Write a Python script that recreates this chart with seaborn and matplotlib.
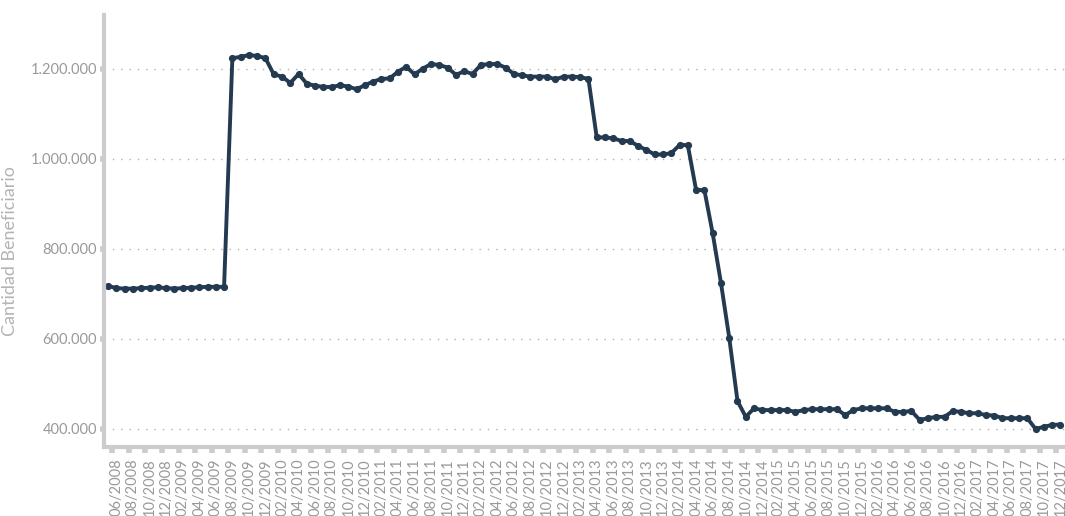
import pandas as pd
import matplotlib
matplotlib.use("Agg")
import matplotlib.pyplot as plt
from matplotlib.ticker import FuncFormatter
import seaborn as sns

# --- Datos: beneficiarios mensuales, 05/2008 a 12/2017 ---
meses = pd.date_range("2008-05-01", "2017-12-01", freq="MS").strftime("%m/%Y").tolist()

beneficiarios = [
    718000, 713000, 712000, 712000, 713000, 714000, 715000, 713000, 712000, 713000,
    714000, 715000, 716000, 716000, 716000,                                  # 05/2008-07/2009
    1224000, 1227000, 1231000, 1229000, 1224000, 1188000, 1183000, 1169000,
    1189000, 1167000, 1163000, 1160000, 1160000, 1164000, 1161000, 1155000,
    1164000, 1172000, 1178000, 1179000, 1194000, 1205000, 1188000, 1201000,
    1211000, 1209000, 1203000, 1187000, 1195000, 1189000, 1209000, 1211000,
    1211000, 1203000, 1189000, 1186000, 1183000, 1183000, 1183000, 1177000,
    1183000, 1183000, 1182000, 1178000,                                      # hasta 03/2013
    1048000, 1048000, 1046000, 1040000, 1040000, 1029000, 1020000, 1010000,
    1010000, 1013000, 1031000, 1031000, 931000, 931000,                      # hasta 05/2014
    835000, 725000, 603000, 462000, 427000, 446000,                          # caida 2014
    442000, 442000, 442000, 442000, 438000, 442000, 444000, 444000, 444000,
    444000, 431000, 442000, 446000, 446000, 446000, 446000, 438000, 438000,
    440000, 420000, 424000, 427000, 427000, 440000, 438000, 435000, 435000,
    431000, 430000, 424000, 424000, 424000, 424000, 400000, 405000, 409000,
    410000,
]

df = pd.DataFrame({"pos": range(len(meses)), "mes": meses, "valor": beneficiarios})

color_linea = "#243a50"
gris_eje = "#cccccc"
gris_texto = "#999999"

sns.set_theme(style="white")
plt.rcParams["font.family"] = ["Lato", "DejaVu Sans"]

fig = plt.figure(figsize=(10.65, 5.16), dpi=100)
ax = fig.add_axes([104 / 1065, 1 - 447 / 516, 960.6 / 1065, 432 / 516])

sns.lineplot(data=df, x="pos", y="valor", ax=ax, color=color_linea,
             linewidth=2.8, marker="o", markersize=5.2,
             markeredgecolor=color_linea, markeredgewidth=0)

ax.set_xlim(-0.5, len(meses) - 0.5)
ax.set_ylim(360000, 1320000)

# eje Y
ax.set_yticks([400000, 600000, 800000, 1000000, 1200000])
ax.yaxis.set_major_formatter(FuncFormatter(lambda v, _: f"{v:,.0f}".replace(",", ".")))
ax.tick_params(axis="y", length=3, width=4, color=gris_eje, pad=2,
               labelsize=10.5, labelcolor=gris_texto, left=True)
ax.set_ylabel("Cantidad Beneficiario", fontsize=13, color="#b3b3b3")
ax.yaxis.set_label_coords(-0.0895, 0.454)

# eje X: etiquetas cada 2 meses, marcas entre categorias
pos_etiq = list(range(1, len(meses), 2))
ax.set_xticks(pos_etiq)
ax.set_xticklabels([meses[i] for i in pos_etiq], rotation=90)
ax.set_xticks([p - 0.5 for p in pos_etiq], minor=True)
ax.tick_params(axis="x", which="major", length=0, pad=8,
               labelsize=10.5, labelcolor=gris_texto, bottom=True)
ax.tick_params(axis="x", which="minor", length=4, width=4, color=gris_eje, bottom=True)
ax.set_xlabel("")

ax.grid(axis="y", color="#b0b0b0", linestyle=(0, (1, 5)), linewidth=1)
ax.grid(axis="x", visible=False)

for lado in ["top", "right"]:
    ax.spines[lado].set_visible(False)
for lado in ["left", "bottom"]:
    ax.spines[lado].set_color(gris_eje)
    ax.spines[lado].set_linewidth(3)

fig.savefig("out.png", dpi=100)
